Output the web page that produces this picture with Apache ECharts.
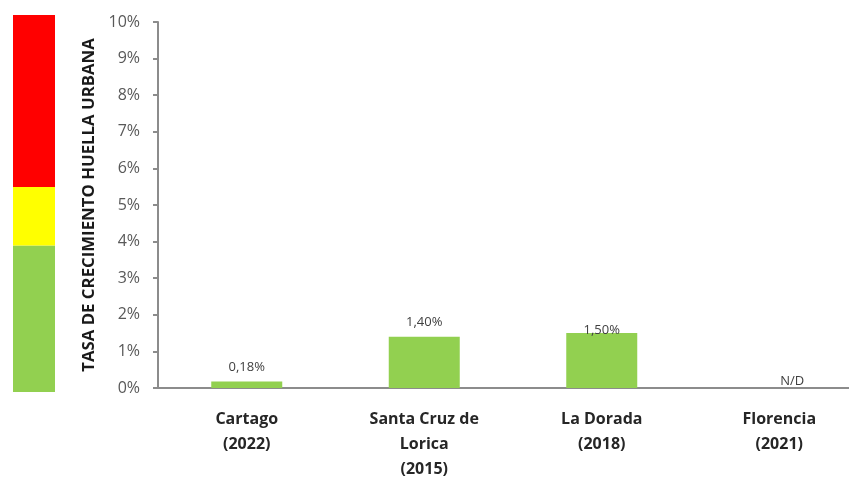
<!DOCTYPE html>
<html>
<head>
<meta charset="utf-8">
<script src="https://cdn.jsdelivr.net/npm/echarts@6/dist/echarts.min.js"></script>
<style>
  html, body { margin: 0; padding: 0; background: #fff; }
  #chart { width: 849px; height: 478px; }
</style>
</head>
<body>
<div id="chart"></div>
<script>
// data
const categories = ['Cartago\n(2022)', 'Santa Cruz de\nLorica\n(2015)', 'La Dorada\n(2018)', 'Florencia\n(2021)'];
const growthRates = [0.18, 1.40, 1.50, null];
const rateLabels = ['0,18%', '1,40%', '1,50%', 'N/D'];
const yTicks = [0, 1, 2, 3, 4, 5, 6, 7, 8, 9, 10];

// colour band at the left (green / yellow / red zones)
const bandGreen = [4.0];
const bandYellow = [1.6];
const bandRed = [4.7];

const chart = echarts.init(document.getElementById('chart'));
const font = '"Open Sans", "Liberation Sans", sans-serif';

const barData = growthRates.map((v, i) => {
  if (v === null) {
    return {
      value: 0,
      label: { show: true, formatter: rateLabels[i], offset: [13, 0], distance: 0 }
    };
  }
  const item = { value: v };
  if (i === 2) item.label = { distance: -4 };
  return item;
});

const option = {
  animation: false,
  grid: [
    { left: 158, width: 710, top: 22, bottom: 90, outerBoundsMode: 'none' },
    { left: 13, width: 42, top: 15, bottom: 86, outerBoundsMode: 'none' }
  ],
  xAxis: [
    {
      type: 'category',
      gridIndex: 0,
      data: categories,
      axisLine: { lineStyle: { color: '#8c8c8c', width: 2 } },
      axisTick: { show: false },
      axisLabel: {
        color: '#262626',
        fontFamily: font,
        fontWeight: 'bold',
        fontSize: 16,
        lineHeight: 25,
        margin: 19
      }
    },
    {
      type: 'category',
      gridIndex: 1,
      data: ['zona'],
      show: false
    }
  ],
  yAxis: [
    {
      type: 'value',
      gridIndex: 0,
      min: 0,
      max: 10,
      interval: 1,
      name: 'TASA DE CRECIMIENTO HUELLA URBANA',
      nameLocation: 'middle',
      nameRotate: 90,
      nameGap: 60,
      nameTextStyle: {
        color: '#1a1a1a',
        fontFamily: font,
        fontWeight: 'bold',
        fontSize: 16.8
      },
      axisLine: { show: true, lineStyle: { color: '#8c8c8c', width: 2 } },
      axisTick: { show: true, length: 5, lineStyle: { color: '#8c8c8c', width: 2 } },
      splitLine: { show: false },
      axisLabel: {
        color: '#595959',
        fontFamily: font,
        fontSize: 16,
        margin: 18,
        formatter: v => (yTicks.includes(v) ? v + '%' : '')
      }
    },
    {
      type: 'value',
      gridIndex: 1,
      min: 0,
      max: 10.3,
      show: false
    }
  ],
  series: [
    {
      type: 'bar',
      xAxisIndex: 0,
      yAxisIndex: 0,
      data: barData,
      barWidth: '40%',
      itemStyle: { color: '#92d050' },
      label: {
        show: true,
        position: 'top',
        distance: 8,
        color: '#404040',
        fontFamily: font,
        fontSize: 13,
        formatter: p => rateLabels[p.dataIndex]
      }
    },
    {
      type: 'bar', stack: 'band', xAxisIndex: 1, yAxisIndex: 1,
      data: bandGreen, barWidth: '100%', itemStyle: { color: '#92d050' }
    },
    {
      type: 'bar', stack: 'band', xAxisIndex: 1, yAxisIndex: 1,
      data: bandYellow, barWidth: '100%', itemStyle: { color: '#ffff00' }
    },
    {
      type: 'bar', stack: 'band', xAxisIndex: 1, yAxisIndex: 1,
      data: bandRed, barWidth: '100%', itemStyle: { color: '#ff0000' }
    }
  ]
};

chart.setOption(option);
</script>
</body>
</html>
